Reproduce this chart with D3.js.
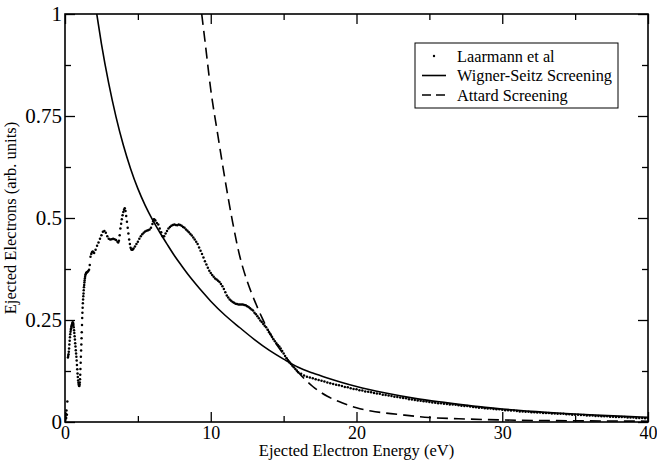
<!DOCTYPE html>
<html>
<head>
<meta charset="utf-8">
<script src="https://cdn.jsdelivr.net/npm/d3@7"></script>
<style>
  html, body { margin: 0; padding: 0; background: #fff; }
  svg { display: block; }
  text { font-family: "Liberation Serif", "Times New Roman", serif; fill: #000; }
</style>
</head>
<body>
<svg id="chart" width="657" height="461"></svg>
<script>
// Measured spectrum, lowest energies (eV, arb. units)
const laarmannLow = [
  [0.00,0.004],[0.02,0.014],[0.04,0.008],[0.06,0.020],[0.08,0.010],[0.10,0.028],[0.13,0.018],[0.16,0.050],
  [0.20,0.158],[0.22,0.162],[0.24,0.166],[0.26,0.172],[0.28,0.180],[0.30,0.190],[0.32,0.199],[0.34,0.208],
  [0.36,0.215],[0.38,0.221],[0.40,0.226],[0.42,0.230],[0.44,0.234],[0.46,0.236],[0.48,0.239],[0.50,0.241],
  [0.52,0.244],[0.54,0.244],[0.56,0.242],[0.58,0.238],[0.60,0.232],[0.62,0.225],[0.64,0.218],[0.66,0.210],
  [0.68,0.202],[0.70,0.193],[0.72,0.185],[0.74,0.176],[0.76,0.168],[0.78,0.160],[0.80,0.151],[0.82,0.140],
  [0.84,0.129],[0.86,0.119],[0.88,0.110],[0.90,0.102],[0.92,0.096],[0.94,0.092],[0.96,0.089],[0.98,0.088],
  [1.000,0.092],[1.015,0.097],[1.030,0.105],[1.045,0.116],[1.060,0.130],[1.075,0.145],[1.090,0.160],
  [1.105,0.175],[1.120,0.190],[1.135,0.205],[1.150,0.220],[1.165,0.238],[1.180,0.255],[1.195,0.268],
  [1.210,0.280],[1.225,0.291],[1.240,0.300],[1.255,0.308],[1.270,0.315],[1.285,0.323],[1.300,0.330],
  [1.315,0.336],[1.330,0.342],[1.345,0.347],[1.360,0.352],[1.380,0.356],[1.400,0.360],[1.425,0.363],
  [1.450,0.365],[1.475,0.366],[1.500,0.367],[1.55,0.368],[1.60,0.370],[1.65,0.373],[1.70,0.385],
  [1.75,0.405],[1.80,0.412],[1.85,0.416],[1.90,0.418],[1.95,0.416]
];

// Measured spectrum, structured region
const laarmannMid = [
  [2.0,0.414],[2.1,0.422],[2.2,0.432],[2.3,0.440],[2.4,0.449],
  [2.5,0.458],[2.6,0.466],[2.7,0.468],[2.8,0.464],[2.9,0.455],[3.0,0.449],[3.1,0.447],[3.2,0.448],[3.3,0.449],
  [3.4,0.448],[3.5,0.446],[3.60,0.442],[3.65,0.440],[3.70,0.444],[3.75,0.458],[3.80,0.474],[3.85,0.486],
  [3.90,0.497],[3.95,0.507],[4.00,0.515],[4.05,0.520],[4.10,0.524],[4.15,0.517],[4.20,0.505],[4.25,0.491],
  [4.30,0.476],[4.35,0.462],[4.40,0.447],[4.45,0.436],[4.50,0.427],[4.55,0.423],[4.60,0.422],[4.65,0.423],
  [4.70,0.425],[4.8,0.430],[4.9,0.436],[5.0,0.442],[5.1,0.449],
  [5.2,0.455],[5.3,0.460],[5.4,0.464],[5.5,0.467],[5.6,0.469],[5.7,0.470],[5.8,0.472],[5.9,0.476],[6.0,0.485],
  [6.05,0.492],[6.1,0.497],[6.15,0.496],[6.2,0.494],[6.3,0.488],[6.4,0.484],[6.5,0.474],[6.6,0.465],[6.7,0.455],
  [6.8,0.455],[6.9,0.462],
  [7.0,0.468],[7.1,0.474],[7.2,0.478],[7.3,0.481],[7.4,0.483],[7.5,0.484],[7.6,0.483],[7.7,0.482],[7.8,0.484],
  [7.9,0.483],[8.0,0.481],[8.1,0.478],[8.2,0.476],[8.3,0.472],[8.4,0.469],[8.5,0.465],[8.6,0.461],[8.7,0.457],
  [8.8,0.452],[8.9,0.447],[9.0,0.442],[9.1,0.436],[9.2,0.428],[9.3,0.420],[9.4,0.412],[9.5,0.403],[9.6,0.394],
  [9.7,0.386],[9.8,0.378],[9.9,0.371],[10.0,0.365],[10.1,0.360],[10.2,0.356],[10.3,0.352],[10.4,0.349],
  [10.5,0.346],[10.6,0.343],[10.7,0.338],[10.8,0.333],[10.9,0.326],[11.0,0.318],[11.1,0.310],[11.2,0.305],
  [11.3,0.300],[11.4,0.297],[11.5,0.294],[11.6,0.292],[11.7,0.290],[11.8,0.289],[11.9,0.288],[12.0,0.288],
  [12.1,0.288],[12.2,0.288],[12.3,0.287],[12.4,0.286],[12.5,0.284],[12.6,0.282],[12.7,0.279],[12.8,0.276],
  [12.9,0.273],[13.0,0.268],[13.1,0.264],[13.2,0.259],[13.3,0.254],[13.4,0.249],[13.5,0.245],[13.6,0.240],
  [13.7,0.236],[13.8,0.232],[13.9,0.226],[14.0,0.220],[14.1,0.215],[14.2,0.209],[14.3,0.203],[14.4,0.198],
  [14.5,0.193],[14.6,0.189],[14.7,0.185],[14.8,0.180],[14.9,0.174],[15.0,0.168],[15.1,0.162],[15.2,0.156],
  [15.3,0.151],[15.4,0.146],[15.5,0.142],[15.6,0.138],[15.7,0.134],[15.8,0.130],[15.9,0.126],[16.0,0.122]
];

// Measured spectrum, high-energy tail
const laarmannTail = [
  [16.2,0.118],[16.4,0.114],[16.6,0.111],[16.8,0.109],[17.0,0.107],[17.2,0.105],[17.4,0.103],[17.6,0.101],
  [17.8,0.099],[18.0,0.097],[18.2,0.095],[18.4,0.093],[18.6,0.091],[18.8,0.090],[19.0,0.088],[19.2,0.086],
  [19.4,0.085],[19.6,0.083],[19.8,0.081],[20.0,0.080],[20.2,0.078],[20.4,0.077],[20.6,0.075],[20.8,0.074],
  [21.0,0.073],[21.2,0.071],[21.4,0.070],[21.6,0.069],[21.8,0.067],[22.0,0.066],[22.2,0.065],[22.4,0.064],
  [22.6,0.062],[22.8,0.061],[23.0,0.060],[23.2,0.059],[23.4,0.058],[23.6,0.056],[23.8,0.055],[24.0,0.054],
  [24.2,0.053],[24.4,0.052],[24.6,0.051],[24.8,0.050],[25.0,0.049],[25.2,0.048],[25.4,0.047],[25.6,0.046],
  [25.8,0.046],[26.0,0.045],[26.2,0.044],[26.4,0.043],[26.6,0.043],[26.8,0.042],[27.0,0.041],[27.2,0.040],
  [27.4,0.039],[27.6,0.039],[27.8,0.038],[28.0,0.037],[28.2,0.036],[28.4,0.035],[28.6,0.035],[28.8,0.034],
  [29.0,0.033],[29.2,0.033],[29.4,0.032],[29.6,0.031],[29.8,0.031],[30.0,0.030],[30.2,0.029],[30.4,0.029],
  [30.6,0.028],[30.8,0.028],[31.0,0.027],[31.2,0.026],[31.4,0.026],[31.6,0.025],[31.8,0.025],[32.0,0.024],
  [32.2,0.024],[32.4,0.023],[32.6,0.023],[32.8,0.022],[33.0,0.022],[33.2,0.022],[33.4,0.021],[33.6,0.021],
  [33.8,0.020],[34.0,0.020],[34.2,0.020],[34.4,0.019],[34.6,0.019],[34.8,0.018],[35.0,0.018],[35.2,0.018],
  [35.4,0.017],[35.6,0.017],[35.8,0.016],[36.0,0.016],[36.2,0.016],[36.4,0.015],[36.6,0.015],[36.8,0.014],
  [37.0,0.014],[37.2,0.014],[37.4,0.013],[37.6,0.013],[37.8,0.012],[38.0,0.012],[38.2,0.012],[38.4,0.012],
  [38.6,0.011],[38.8,0.011],[39.0,0.011],[39.2,0.010],[39.4,0.010],[39.6,0.010],[39.8,0.009],[40.0,0.009]
];

// Wigner-Seitz screening model
const wignerSeitz = [
  [2.18,1.000],[2.5,0.927],[3.0,0.830],[3.5,0.748],[4.0,0.679],[4.5,0.621],[5.0,0.572],[5.5,0.531],
  [6.0,0.496],[6.5,0.465],[7.0,0.436],[7.5,0.408],[8.0,0.383],[8.5,0.359],[9.0,0.337],[9.5,0.316],
  [10.0,0.296],[11.0,0.261],[12.0,0.231],[13.0,0.202],[14.0,0.176],[15.0,0.154],[16.0,0.134],
  [17.0,0.120],[18.0,0.108],[19.0,0.097],[20.0,0.087],[22.0,0.071],[24.0,0.058],[26.0,0.048],[28.0,0.039],
  [30.0,0.032],[32.0,0.026],[34.0,0.0215],[36.0,0.0176],[38.0,0.0144],[40.0,0.0118]
];

// Attard screening model
const attard = [
  [9.38,1.000],[9.6,0.935],[10.0,0.815],[10.5,0.700],[11.0,0.590],[11.5,0.490],[12.0,0.405],[12.5,0.345],
  [13.0,0.298],[13.5,0.257],[14.0,0.221],[14.5,0.191],[15.0,0.166],[15.56,0.141],[16.0,0.122],[17.0,0.087],
  [18.0,0.063],[19.0,0.047],[20.0,0.035],[21.0,0.027],[22.0,0.022],[23.0,0.018],[25.0,0.011],[27.0,0.008],
  [30.0,0.005],[35.0,0.003],[40.0,0.002]
];

const xMajorTicks = [0, 10, 20, 30, 40];
const xMinorTicks = [5, 15, 25, 35];
const yMajorTicks = [0, 0.25, 0.5, 0.75, 1];
const yMinorTicks = [0.125, 0.375, 0.625, 0.875];
const yTickLabels = ["0", "0.25", "0.5", "0.75", "1"];

const legendItems = [
  { label: "Laarmann et al", kind: "dot" },
  { label: "Wigner-Seitz Screening", kind: "solid" },
  { label: "Attard Screening", kind: "dash" }
];

const svg = d3.select("#chart");
const W = 657, H = 461;
const margin = { left: 65, right: 9, top: 14, bottom: 39 };
const x0 = margin.left, x1 = W - margin.right, y0 = H - margin.bottom, y1 = margin.top;

const x = d3.scaleLinear().domain([0, 40]).range([x0, x1]);
const y = d3.scaleLinear().domain([0, 1]).range([y0, y1]);

svg.append("rect").attr("width", W).attr("height", H).attr("fill", "#fff");

svg.append("defs").append("clipPath").attr("id", "plotClip")
  .append("rect").attr("x", x0).attr("y", y1).attr("width", x1 - x0).attr("height", y0 - y1);

const plot = svg.append("g").attr("clip-path", "url(#plotClip)");

const line = d3.line().x(d => x(d[0])).y(d => y(d[1])).curve(d3.curveMonotoneX);

plot.append("path").datum(wignerSeitz)
  .attr("d", line).attr("fill", "none").attr("stroke", "#000").attr("stroke-width", 1.6);

plot.append("path").datum(attard)
  .attr("d", line).attr("fill", "none").attr("stroke", "#000").attr("stroke-width", 1.6)
  .attr("stroke-dasharray", "11,6");

const allDots = laarmannLow.concat(laarmannMid, laarmannTail);
plot.append("g").selectAll("circle").data(allDots).join("circle")
  .attr("cx", d => x(d[0])).attr("cy", d => y(d[1])).attr("r", 1.25).attr("fill", "#000");

// Axes: ticks point inward on all four sides
const xTickFont = 18, yTickFont = 21, titleFont = 16.5;
function addAxis(axisGen, transform, values, size, labels, fs) {
  const g = svg.append("g").attr("transform", transform)
    .call(axisGen.tickValues(values).tickSizeInner(size).tickSizeOuter(0)
      .tickFormat(labels ? (d, i) => labels[i] : ""));
  g.select(".domain").remove();
  g.selectAll(".tick line").attr("stroke", "#000").attr("stroke-width", 1.3);
  g.selectAll("text").attr("font-size", fs || 16).attr("font-family", "Liberation Serif, serif");
  return g;
}

const gx = addAxis(d3.axisBottom(x), `translate(0,${y0})`, xMajorTicks, -10, xMajorTicks.map(String), xTickFont);
gx.selectAll("text").attr("y", 4).attr("dy", "0.71em");
addAxis(d3.axisBottom(x), `translate(0,${y0})`, xMinorTicks, -6, null);
addAxis(d3.axisTop(x), `translate(0,${y1})`, xMajorTicks, -10, null);
addAxis(d3.axisTop(x), `translate(0,${y1})`, xMinorTicks, -6, null);

const gy = addAxis(d3.axisLeft(y), `translate(${x0},0)`, yMajorTicks, -10, yTickLabels, yTickFont);
gy.selectAll("text").attr("x", -3);
addAxis(d3.axisLeft(y), `translate(${x0},0)`, yMinorTicks, -6, null);
addAxis(d3.axisRight(y), `translate(${x1},0)`, yMajorTicks, -10, null);
addAxis(d3.axisRight(y), `translate(${x1},0)`, yMinorTicks, -6, null);

// Frame
svg.append("rect").attr("x", x0).attr("y", y1).attr("width", x1 - x0).attr("height", y0 - y1)
  .attr("fill", "none").attr("stroke", "#000").attr("stroke-width", 1.6);

// Axis titles
svg.append("text").attr("x", (x0 + x1) / 2).attr("y", 456)
  .attr("text-anchor", "middle").attr("font-size", titleFont)
  .text("Ejected Electron Energy (eV)");

svg.append("text")
  .attr("transform", `translate(16,${(y0 + y1) / 2}) rotate(-90)`)
  .attr("text-anchor", "middle").attr("font-size", titleFont)
  .text("Ejected Electrons (arb. units)");

// Legend
const lg = svg.append("g");
lg.append("rect").attr("x", 415).attr("y", 43).attr("width", 203).attr("height", 65)
  .attr("fill", "#fff").attr("stroke", "#000").attr("stroke-width", 1);
legendItems.forEach((item, i) => {
  const cy = 56 + i * 19.5;
  if (item.kind === "dot") {
    lg.append("circle").attr("cx", 434).attr("cy", cy).attr("r", 1.2).attr("fill", "#000");
  } else {
    lg.append("line").attr("x1", 422).attr("x2", 446).attr("y1", cy).attr("y2", cy)
      .attr("stroke", "#000").attr("stroke-width", 1.6)
      .attr("stroke-dasharray", item.kind === "dash" ? "9,5" : null);
  }
  lg.append("text").attr("x", 457).attr("y", cy).attr("dy", "0.35em")
    .attr("font-size", 16.3).text(item.label);
});
</script>
</body>
</html>
